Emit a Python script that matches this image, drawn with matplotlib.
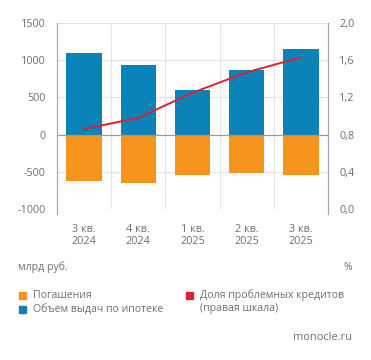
import matplotlib
matplotlib.use("Agg")
import matplotlib.pyplot as plt
import numpy as np

plt.rcParams['font.family'] = ['Open Sans', 'DejaVu Sans']

quarters = ["3 кв.\n2024", "4 кв.\n2024", "1 кв.\n2025", "2 кв.\n2025", "3 кв.\n2025"]
issued = [1100, 930, 605, 875, 1145]          # объем выдач по ипотеке, млрд руб.
repaid = [-630, -645, -545, -520, -548]       # погашения, млрд руб.
bad_share = [0.86, 0.98, 1.25, 1.47, 1.63]    # доля проблемных кредитов, %

left_ticks = [-1000, -500, 0, 500, 1000, 1500]
right_ticks = [0.0, 0.4, 0.8, 1.2, 1.6, 2.0]

c_blue = '#0a84b8'
c_orange = '#f7941d'
c_red = '#e0202e'
c_text = '#707070'
c_grid = '#e3e3e3'

fig = plt.figure(figsize=(3.71, 3.60), dpi=100)
ax = fig.add_axes([57/371, 1-209/360, 271/371, 186/360])
x = np.arange(len(quarters))

ax.bar(x, issued, width=0.65, color=c_blue, zorder=2)
ax.bar(x, repaid, width=0.65, color=c_orange, zorder=2)
ax.axhline(0, color='#9a9a9a', lw=0.9, zorder=3)

ax.set_xlim(-0.5, len(quarters) - 0.5)
ax.set_ylim(-1000, 1500)
ax.set_yticks(left_ticks)
ax.set_yticklabels([str(v) for v in left_ticks])
ax.set_xticks(x)
ax.set_xticklabels(quarters, linespacing=1.1)
for v in left_ticks:
    if v != 0:
        ax.axhline(v, color=c_grid, lw=0.8, zorder=1)
for b in np.arange(0.5, len(quarters) - 1, 1.0):
    ax.axvline(b, color=c_grid, lw=0.8, zorder=1)

for s in ax.spines.values():
    s.set_visible(False)
ax.tick_params(axis='both', length=0, colors=c_text, labelsize=7.8)
ax.tick_params(axis='x', pad=11)
ax.tick_params(axis='y', pad=8)

# вертикальные оси, чуть выступающие вниз
ax.plot([-0.5, -0.5], [-1070, 1500], color='#a8a8a8', lw=0.9, clip_on=False, zorder=3)
ax.plot([4.5, 4.5], [-1070, 1500], color='#a8a8a8', lw=0.9, clip_on=False, zorder=3)

ax2 = ax.twinx()
ax2.plot(x, bad_share, color=c_red, lw=1.4, zorder=4)
ax2.set_ylim(0, 2.0)
ax2.set_yticks(right_ticks)
ax2.set_yticklabels([f"{v:.1f}".replace('.', ',') for v in right_ticks])
for s in ax2.spines.values():
    s.set_visible(False)
ax2.tick_params(axis='y', length=0, colors=c_text, labelsize=7.8, pad=8)

fig.text(18/371, 1-267/360, "млрд руб.", color=c_text, fontsize=7.6, va='center')
fig.text(352/371, 1-267/360, "%", color=c_text, fontsize=7.6, va='center', ha='right')

def legend_item(px, py, color, label):
    fig.patches.append(plt.Rectangle((px/371, 1-(py+3.5)/360), 7/371, 7/360,
                                     color=color, transform=fig.transFigure))
    fig.text((px+14)/371, 1-py/360, label, color=c_text, fontsize=7.6, va='center')

legend_item(19, 295, c_orange, "Погашения")
legend_item(19, 309, c_blue, "Объем выдач по ипотеке")
legend_item(186, 295, c_red, "Доля проблемных кредитов")
fig.text(200/371, 1-309/360, "(правая шкала)", color=c_text, fontsize=7.6, va='center')

fig.text(352/371, 1-338/360, "monocle.ru", color=c_text, fontsize=7.9, va='center', ha='right')

fig.savefig("out.png", dpi=100, facecolor='white')
